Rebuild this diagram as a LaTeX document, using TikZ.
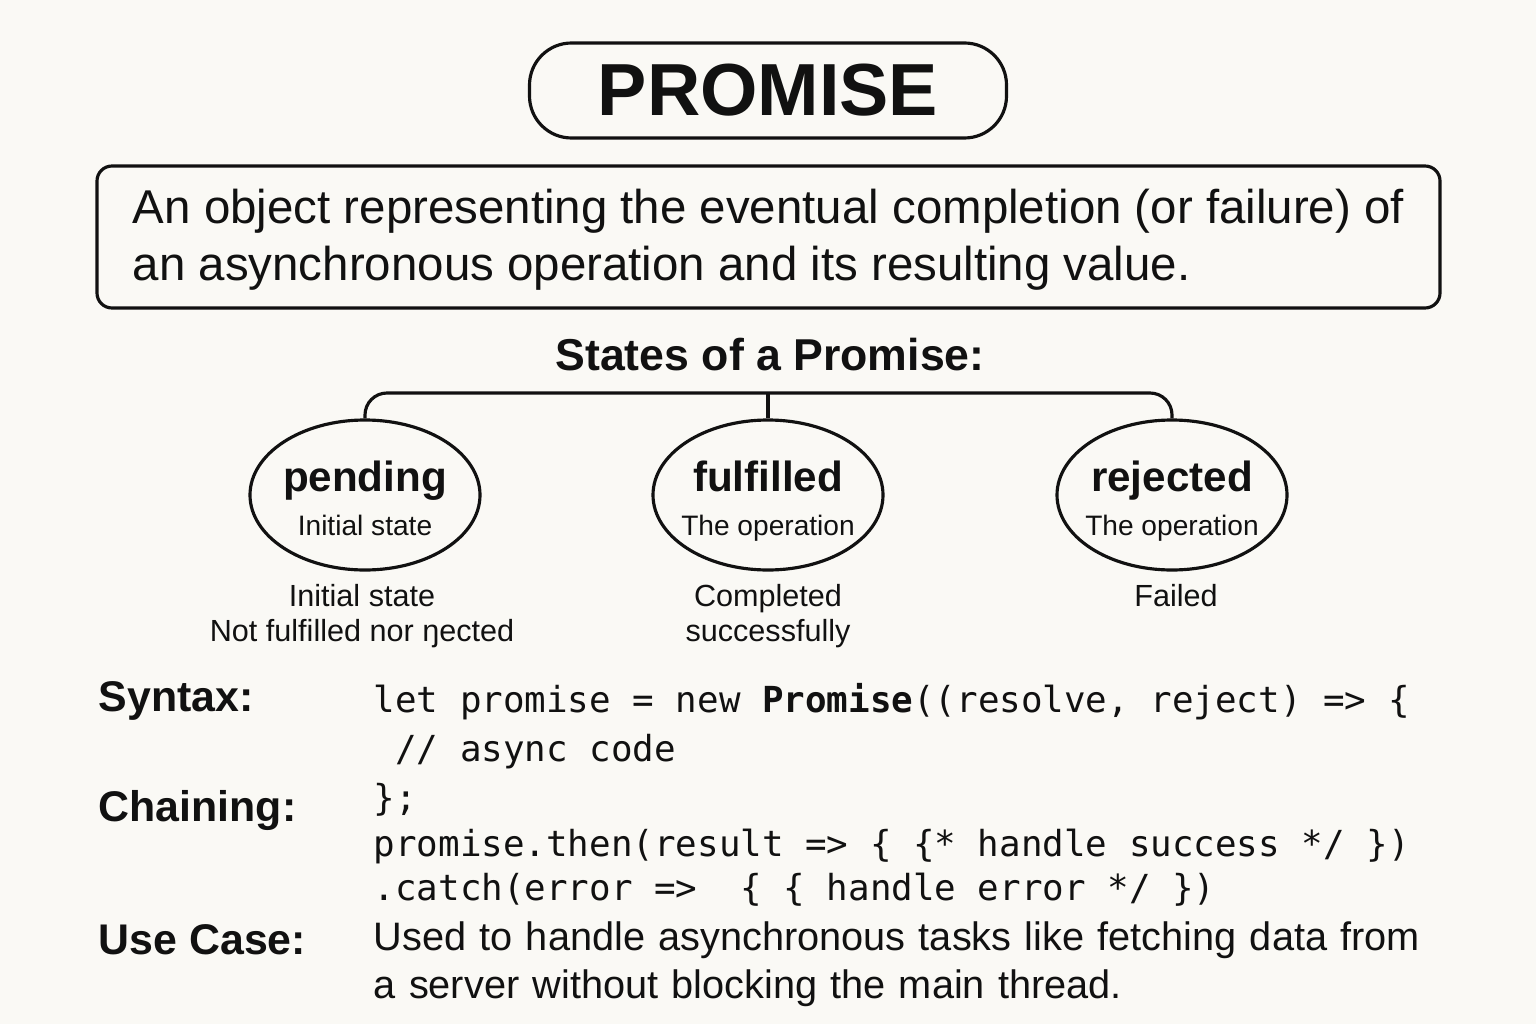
\documentclass[tikz,border=0pt]{standalone}
\usepackage{fontspec}
\setmainfont{Liberation Sans}
\setmonofont{DejaVu Sans Mono}
\usetikzlibrary{shapes.geometric, positioning}
\definecolor{mybg}{RGB}{250,249,245}
\definecolor{myink}{RGB}{17,17,17}
\tikzstyle{titlebox} = [draw=myink, line width=0.9pt, rounded corners=0.42cm,
    minimum width=4.77cm, minimum height=0.95cm, inner sep=0,
    text=myink, font=\fontsize{21}{24}\selectfont\bfseries]
\tikzstyle{descbox} = [draw=myink, line width=0.9pt, rounded corners=0.15cm,
    minimum width=13.43cm, minimum height=1.42cm, inner sep=0,
    align=left, text=myink, font=\fontsize{13.5}{16.2}\selectfont]
\tikzstyle{heading} = [inner sep=0, text=myink, font=\fontsize{12.7}{15}\selectfont\bfseries]
\tikzstyle{state} = [draw=myink, line width=0.9pt, ellipse,
    minimum width=2.30cm, minimum height=1.50cm, inner sep=0]
\tikzstyle{statename} = [inner sep=0, anchor=base, text=myink, font=\fontsize{12}{14}\selectfont\bfseries]
\tikzstyle{statesub} = [inner sep=0, anchor=base, text=myink, font=\fontsize{8}{10}\selectfont]
\tikzstyle{note} = [inner sep=0, text=myink, align=center, font=\fontsize{8.7}{10}\selectfont]
\tikzstyle{sidelabel} = [inner sep=0, anchor=base west, text=myink, font=\fontsize{12.2}{14}\selectfont\bfseries]
\tikzstyle{codeline} = [inner sep=0, anchor=base west, text=myink, font=\fontsize{10.2}{12}\selectfont\ttfamily]
\tikzstyle{usetext} = [inner sep=0, anchor=north west, text width=11cm, align=left,
    text=myink, font=\fontsize{11.3}{13.7}\selectfont]
\tikzstyle{link} = [draw=myink, line width=0.9pt, rounded corners=0.22cm]

\begin{document}
\begin{tikzpicture}

\fill[mybg] (0,0) rectangle (15.36,10.24);
\useasboundingbox (0,0) rectangle (15.36,10.24);

%%% title and definition
\node[titlebox] (title) at (7.68,9.335) {PROMISE};
\node[descbox] (desc) at (7.685,7.87) {};
\node[descbox, draw=none, minimum height=0] (desctext) at (7.685,7.84) {An object representing the eventual completion (or failure) of\\an asynchronous operation and its resulting value.};

\node[heading] (states) at (7.70,6.69) {States of a Promise:};

%%% states
\node[state] (pend) at (3.65,5.29) {};
\node[state] (ful) at (7.68,5.29) {};
\node[state] (rej) at (11.72,5.29) {};

\node[statename] (pendname) at ([yshift=0.04cm]pend.center) {pending};
\node[statesub] (pendsub) at ([yshift=-0.40cm]pend.center) {Initial state};
\node[statename] (fulname) at ([yshift=0.04cm]ful.center) {fulfilled};
\node[statesub] (fulsub) at ([yshift=-0.40cm]ful.center) {The operation};
\node[statename] (rejname) at ([yshift=0.04cm]rej.center) {rejected};
\node[statesub] (rejsub) at ([yshift=-0.40cm]rej.center) {The operation};

\node[note, below=0.12cm of pend, xshift=-0.03cm] (pendnote) {Initial state\\Not fulfilled nor ŋected};
\node[note, below=0.12cm of ful] (fulnote) {Completed\\successfully};
\node[note, below=0.12cm of rej, xshift=0.04cm] (rejnote) {Failed};

\coordinate (bar) at (7.68,6.31);
\draw[link] (pend.north) |- (bar) -| (rej.north);
\draw[link] (bar) -- (ful.north);

%%% syntax, chaining, use case
\node[sidelabel] (syntax) at (0.98,3.13) {Syntax:};
\node[sidelabel] (chaining) at (0.98,2.03) {Chaining:};
\node[sidelabel] (usecase) at (0.98,0.70) {Use Case:};

\node[codeline] (code1) at (3.73,3.12) {let promise = new \textbf{Promise}((resolve, reject) => \{};
\node[codeline] (code2) at (3.73,2.63) {\ // async code};
\node[codeline] (code3) at (3.73,2.14) {\};};
\node[codeline] (code4) at (3.73,1.68) {promise.then(result => \{ \{* handle success */ \})};
\node[codeline] (code5) at (3.73,1.24) {.catch(error =>\ \ \{ \{ handle error */ \})};

\node[usetext] (usebody) at (3.73,1.03) {Used to handle asynchronous tasks like fetching data from\\a server without blocking the main thread.};

\end{tikzpicture}
\end{document}
